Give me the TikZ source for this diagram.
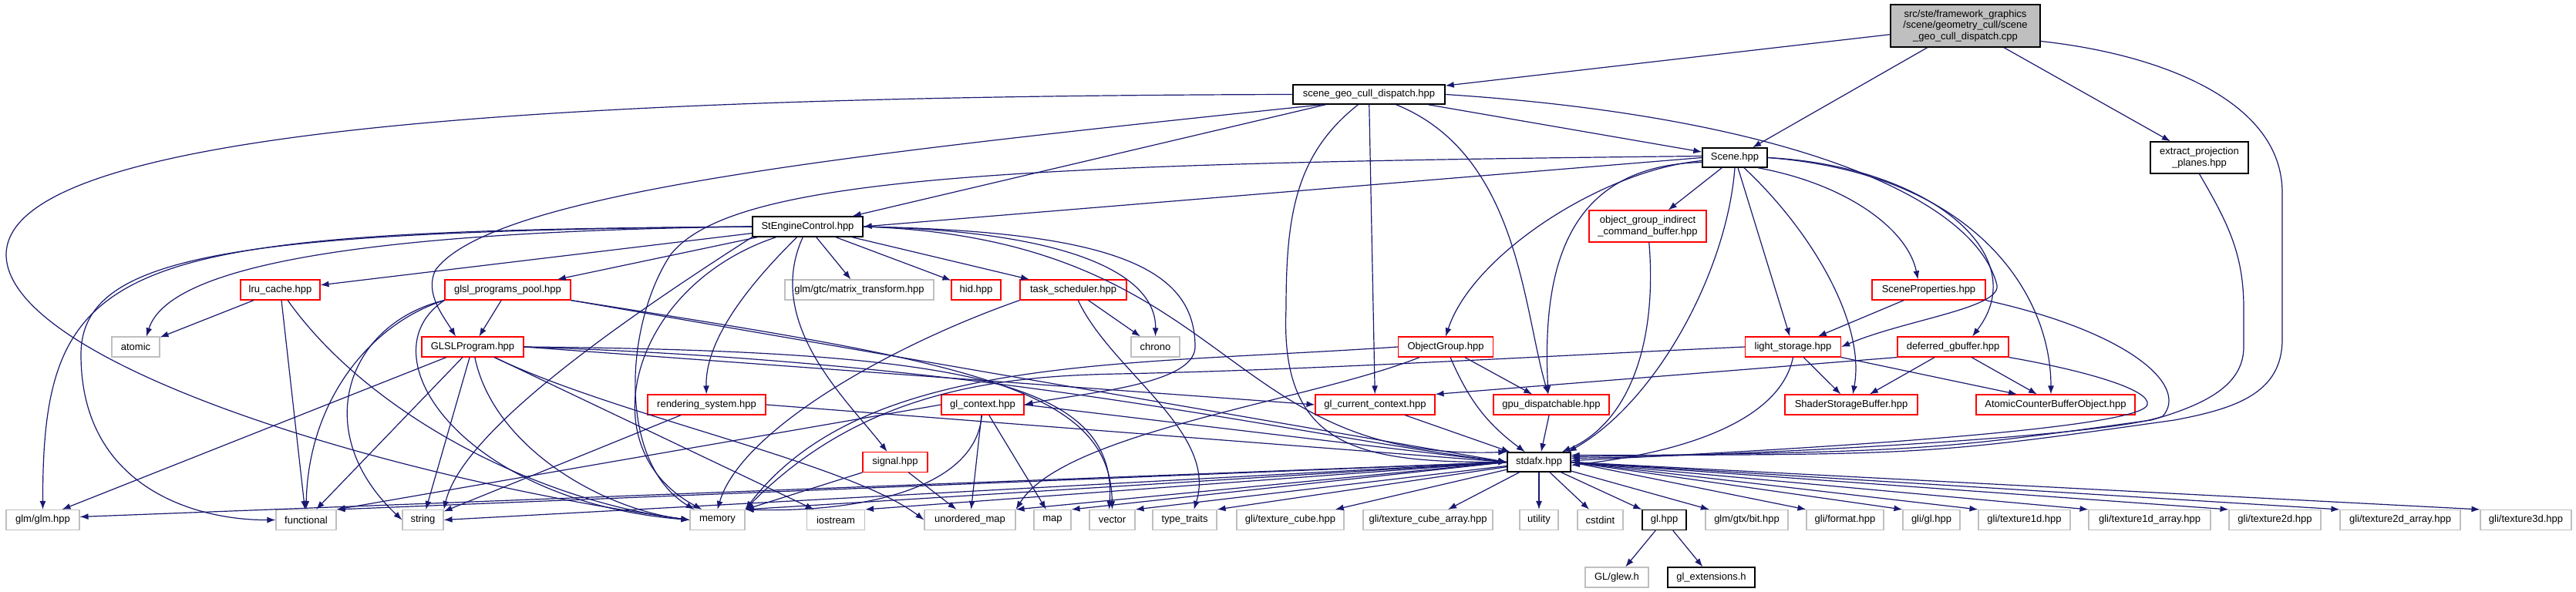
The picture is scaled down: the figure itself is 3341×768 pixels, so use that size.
\documentclass[tikz,border=0pt]{standalone}
\usepackage{fontspec}
\setmainfont{Liberation Sans}
\usetikzlibrary{arrows.meta}
\definecolor{dxblue}{HTML}{191970}
\definecolor{dxred}{HTML}{FF0000}
\definecolor{dxgray}{HTML}{BFBFBF}

\begin{document}
\begin{tikzpicture}[x=1pt,y=-1pt,
      box/.style={draw,line width=1.1pt,fill=white,inner sep=0pt,minimum height=26,align=center,font=\fontsize{13}{14.5}\selectfont},
      incbox/.style={box,draw=black,line width=1.4pt},
      redbox/.style={box,draw=dxred},
      sysbox/.style={box,draw=dxgray},
      arr/.style={-{Latex[length=11pt,width=8pt]},line width=1.2pt,draw=dxblue}]
    \fill[white] (0,0) rectangle (3341,768);
    \useasboundingbox (0,0) rectangle (3341,768);
    \node[incbox,fill=dxgray,minimum width=194,minimum height=55] (root) at (2549,33.5)
      {src/ste/framework\_graphics\\/scene/geometry\_cull/scene\\\_geo\_cull\_dispatch.cpp};
    \node[incbox,minimum width=197,minimum height=25] (sgcd) at (1775.5,122.5) {scene\_geo\_cull\_dispatch.hpp};
    \node[incbox,minimum width=84,minimum height=25] (scene) at (2250,204.5) {Scene.hpp};
    \node[incbox,minimum width=127,minimum height=41] (epp) at (2852.5,204.5) {extract\_projection\\\_planes.hpp};
    \node[redbox,minimum width=152,minimum height=41] (ogicb) at (2137,293.5) {object\_group\_indirect\\\_command\_buffer.hpp};
    \node[incbox,minimum width=143] (stengine) at (1047.5,294) {StEngineControl.hpp};
    \node[redbox,minimum width=103] (lru) at (363.5,376) {lru\_cache.hpp};
    \node[redbox,minimum width=163] (glslpool) at (658.5,376) {glsl\_programs\_pool.hpp};
    \node[sysbox,minimum width=193] (matrixtr) at (1114.5,376) {glm/gtc/matrix\_transform.hpp};
    \node[redbox,minimum width=64] (hid) at (1266,376) {hid.hpp};
    \node[redbox,minimum width=138] (tasksch) at (1392,376) {task\_scheduler.hpp};
    \node[redbox,minimum width=147] (sceneprop) at (2501.5,376) {SceneProperties.hpp};
    \node[sysbox,minimum width=62] (atomic) at (176,450) {atomic};
    \node[redbox,minimum width=132] (glslprog) at (613,450) {GLSLProgram.hpp};
    \node[sysbox,minimum width=63] (chrono) at (1498.5,450) {chrono};
    \node[redbox,minimum width=123] (objgroup) at (1875,450) {ObjectGroup.hpp};
    \node[redbox,minimum width=124] (lightst) at (2325.5,450) {light\_storage.hpp};
    \node[redbox,minimum width=144] (dgbuf) at (2533,450) {deferred\_gbuffer.hpp};
    \node[redbox,minimum width=153] (rendsys) at (916.5,525) {rendering\_system.hpp};
    \node[redbox,minimum width=107] (glctx) at (1274.5,525) {gl\_context.hpp};
    \node[redbox,minimum width=155] (glcurctx) at (1783.5,525) {gl\_current\_context.hpp};
    \node[redbox,minimum width=150] (gpudisp) at (2012,525) {gpu\_dispatchable.hpp};
    \node[redbox,minimum width=172] (ssbo) at (2401,525) {ShaderStorageBuffer.hpp};
    \node[redbox,minimum width=206] (acbo) at (2666,525) {AtomicCounterBufferObject.hpp};
    \node[redbox,minimum width=84] (signal) at (1161,599.5) {signal.hpp};
    \node[incbox,minimum width=82,minimum height=25] (stdafx) at (1996,599.5) {stdafx.hpp};
    \node[sysbox,minimum width=95] (glmglm) at (55.5,674.5) {glm/glm.hpp};
    \node[sysbox,minimum width=78] (functional) at (397,674.5) {functional};
    \node[sysbox,minimum width=53] (string) at (548.5,674.5) {string};
    \node[sysbox,minimum width=71] (memory) at (930.5,674.5) {memory};
    \node[sysbox,minimum width=75] (iostream) at (1084,674.5) {iostream};
    \node[sysbox,minimum width=118] (unordmap) at (1258,674.5) {unordered\_map};
    \node[sysbox,minimum width=48] (map) at (1365,674.5) {map};
    \node[sysbox,minimum width=59] (vector) at (1442.5,674.5) {vector};
    \node[sysbox,minimum width=83] (typetraits) at (1536.5,674.5) {type\_traits};
    \node[sysbox,minimum width=139] (texcube) at (1673.5,674.5) {gli/texture\_cube.hpp};
    \node[sysbox,minimum width=168] (texcubearr) at (1852,674.5) {gli/texture\_cube\_array.hpp};
    \node[sysbox,minimum width=50] (utility) at (1996,674.5) {utility};
    \node[sysbox,minimum width=59] (cstdint) at (2075.5,674.5) {cstdint};
    \node[incbox,minimum width=57] (glhpp) at (2158.5,674.5) {gl.hpp};
    \node[sysbox,minimum width=107] (gtxbit) at (2265.5,674.5) {glm/gtx/bit.hpp};
    \node[sysbox,minimum width=100] (format) at (2393,674.5) {gli/format.hpp};
    \node[sysbox,minimum width=74] (gligl) at (2505,674.5) {gli/gl.hpp};
    \node[sysbox,minimum width=119] (tex1d) at (2625.5,674.5) {gli/texture1d.hpp};
    \node[sysbox,minimum width=158] (tex1darr) at (2788,674.5) {gli/texture1d\_array.hpp};
    \node[sysbox,minimum width=119] (tex2d) at (2950.5,674.5) {gli/texture2d.hpp};
    \node[sysbox,minimum width=156] (tex2darr) at (3113,674.5) {gli/texture2d\_array.hpp};
    \node[sysbox,minimum width=118] (tex3d) at (3276,674.5) {gli/texture3d.hpp};
    \node[sysbox,minimum width=82] (glew) at (2097,749) {GL/glew.h};
    \node[incbox,minimum width=113] (glext) at (2219.5,749) {gl\_extensions.h};
    \draw[arr] (root) -- (sgcd);
    \draw[arr] (root) -- (scene);
    \draw[arr] (root) -- (epp);
    \draw[arr] ([yshift=-20]root.east) .. controls (2800,70) and (2960,130) .. (2960,250) -- (2960,440)
      .. controls (2960,510) and (2900,530) .. (2820,545) .. controls (2500,590) .. ([yshift=9]stdafx.east);
    \draw[arr] (epp.south) .. controls (2890,290) and (2910,330) .. (2910,400) -- (2910,450)
      .. controls (2910,500) and (2860,525) .. (2790,545) .. controls (2500,585) .. ([yshift=7]stdafx.east);
    \draw[arr] (sgcd.west) .. controls (600,125) and (10,180) .. (8,330)
      .. controls (8,470) and (500,620) .. (memory.west);
    \draw[arr] ([xshift=-60]sgcd.south) .. controls (1100,200) and (640,250) .. (565,350)
      .. controls (550,380) and (575,410) .. ([xshift=-22]glslprog.north);
    \draw[arr] (sgcd) -- (stengine);
    \draw[arr] ([xshift=-14]sgcd.south) .. controls (1680,200) and (1668,280) .. (1668,400)
      .. controls (1660,580) and (1760,600) .. (stdafx.west);
    \draw[arr] (sgcd) -- (glcurctx);
    \draw[arr] ([xshift=35]sgcd.south) .. controls (1970,200) and (1975,400) .. ([xshift=-4]gpudisp.north);
    \draw[arr] (sgcd) -- (scene);
    \draw[arr] (sgcd.east) .. controls (2300,150) and (2560,250) .. (2590,370)
      .. controls (2595,400) and (2470,415) .. (lightst.east);
    \draw[arr] (scene.west) -- (stengine.east);
    \draw[arr] ([yshift=2]scene.west) .. controls (1300,212) and (950,230) .. (870,330)
      .. controls (810,420) and (800,600) .. ([xshift=-30]memory.north);
    \draw[arr] ([yshift=-4]scene.west) .. controls (2080,220) and (1910,330) .. (objgroup.north);
    \draw[arr] ([yshift=-6]scene.west) .. controls (2030,215) and (2000,350) .. ([xshift=-4]gpudisp.north);
    \draw[arr] (scene) -- (ogicb);
    \draw[arr] (scene.south) .. controls (2240,350) and (2150,520) .. ([xshift=-4]stdafx.north east);
    \draw[arr] (scene) -- (lightst);
    \draw[arr] ([xshift=12]scene.south) .. controls (2350,300) and (2420,420) .. ([xshift=2]ssbo.north);
    \draw[arr] ([xshift=30]scene.south) .. controls (2400,240) and (2475,300) .. ([xshift=-14]sceneprop.north);
    \draw[arr] (scene.east) .. controls (2500,215) and (2640,330) .. ([xshift=25]dgbuf.north);
    \draw[arr] (scene.east) .. controls (2560,225) and (2660,380) .. ([xshift=-6]acbo.north);
    \draw[arr] (stengine.west) .. controls (150,300) and (55,330) .. (glmglm.north);
    \draw[arr] (stengine.west) .. controls (300,300) and (105,330) .. (105,460)
      .. controls (105,630) and (250,675) .. (functional.west);
    \draw[arr] (stengine.west) .. controls (500,300) and (220,340) .. ([xshift=14]atomic.north);
    \draw[arr] (stengine) -- (lru);
    \draw[arr] (stengine) -- (glslpool);
    \draw[arr] (stengine) .. controls (820,370) and (760,580) .. ([xshift=-20]memory.north);
    \draw[arr] (stengine.south west) .. controls (800,420) and (600,560) .. (string.north east);
    \draw[arr] (stengine) .. controls (940,400) and (915,460) .. (rendsys);
    \draw[arr] (stengine) .. controls (990,420) and (1100,520) .. (signal);
    \draw[arr] (stengine) -- (matrixtr);
    \draw[arr] (stengine) -- (hid);
    \draw[arr] (stengine) -- (tasksch);
    \draw[arr] (stengine.east) .. controls (1400,300) and (1500,360) .. (chrono.north);
    \draw[arr] (stengine.east) .. controls (1450,300) and (1550,350) .. (1550,450)
      .. controls (1550,500) and (1400,510) .. (glctx.east);
    \draw[arr] (stengine.east) .. controls (1600,310) and (1580,600) .. (stdafx.north west);
    \draw[arr] (lru) -- (atomic);
    \draw[arr] (lru) -- (functional);
    \draw[arr] (lru) .. controls (480,540) and (700,650) .. (memory.west);
    \draw[arr] (glslpool) -- (glslprog);
    \draw[arr] (glslpool.south west) .. controls (480,420) and (400,520) .. (functional.north);
    \draw[arr] (glslpool.south west) .. controls (450,420) and (400,560) .. (string.west);
    \draw[arr] (glslpool.south west) .. controls (470,460) and (600,650) .. (memory.west);
    \draw[arr] (glslpool.south east) .. controls (1250,470) and (1440,500) .. (vector.north);
    \draw[arr] (glslpool.south east) -- (stdafx.west);
    \draw[arr] (glslprog) -- ([xshift=25]glmglm.north);
    \draw[arr] (glslprog) -- (functional);
    \draw[arr] (glslprog) -- (string);
    \draw[arr] (glslprog) .. controls (640,580) and (780,660) .. (memory.west);
    \draw[arr] (glslprog) -- (iostream);
    \draw[arr] (glslprog) .. controls (800,540) and (1100,600) .. (unordmap.west);
    \draw[arr] (glslprog.east) -- (glcurctx.west);
    \draw[arr] (glslprog.east) .. controls (1300,470) and (1650,560) .. (stdafx.west);
    \draw[arr] (glslprog.east) .. controls (1250,455) and (1450,495) .. ([xshift=-4]vector.north);
    \draw[arr] (tasksch) -- (chrono);
    \draw[arr] (tasksch) .. controls (1440,480) and (1580,560) .. ([xshift=12]typetraits.north);
    \draw[arr] (tasksch.south west) .. controls (1150,450) and (960,560) .. (memory.north);
    \draw[arr] (rendsys) -- (string);
    \draw[arr] (rendsys.east) -- (stdafx.west);
    \draw[arr] (glctx.west) -- (functional.north east);
    \draw[arr] (glctx) .. controls (1265,640) and (1100,665) .. (memory.north east);
    \draw[arr] (glctx) -- (unordmap);
    \draw[arr] (glctx) -- (map);
    \draw[arr] (glctx.east) -- (stdafx.west);
    \draw[arr] (signal) -- (memory.north east);
    \draw[arr] (signal) -- (unordmap);
    \draw[arr] (objgroup.west) .. controls (1450,475) and (1120,460) .. (memory.north east);
    \draw[arr] (objgroup) .. controls (1700,520) and (1380,560) .. (unordmap.north east);
    \draw[arr] (objgroup) -- (gpudisp);
    \draw[arr] (objgroup) to[bend right=15] (stdafx);
    \draw[arr] (lightst.west) .. controls (2000,462) and (1700,480) .. (1450,485)
      .. controls (1300,488) and (1120,505) .. (memory.north east);
    \draw[arr] (lightst) -- (ssbo);
    \draw[arr] (lightst.south east) -- ([xshift=-50]acbo.north);
    \draw[arr] (lightst.south) .. controls (2310,540) and (2200,585) .. ([yshift=-4]stdafx.east);
    \draw[arr] (sceneprop) -- (lightst);
    \draw[arr] (sceneprop.south east) .. controls (2760,430) and (2840,500) .. (2805,540)
      .. controls (2740,565) and (2300,590) .. ([yshift=5]stdafx.east);
    \draw[arr] (dgbuf.south west) -- (glcurctx.north east);
    \draw[arr] (dgbuf) -- (ssbo);
    \draw[arr] (dgbuf) -- (acbo);
    \draw[arr] (dgbuf.south east) .. controls (2700,480) and (2790,505) .. (2785,525)
      .. controls (2780,545) and (2600,570) .. ([yshift=2]stdafx.east);
    \draw[arr] (ogicb) .. controls (2150,450) and (2110,550) .. ([xshift=-12]stdafx.north east);
    \draw[arr] (gpudisp) -- (stdafx);
    \draw[arr] (glcurctx) -- (stdafx);
    \draw[arr] (stdafx.west) -- ([yshift=4]glmglm.east);
    \draw[arr] (stdafx.west) -- (functional.north east);
    \draw[arr] (stdafx.west) -- (string.east);
    \draw[arr] (stdafx.west) -- (memory.north east);
    \draw[arr] (stdafx.west) -- (iostream.north east);
    \draw[arr] (stdafx.west) -- (unordmap.north east);
    \draw[arr] (stdafx.west) -- (map.north east);
    \draw[arr] (stdafx) -- (vector.north east);
    \draw[arr] (stdafx) -- (typetraits.north east);
    \draw[arr] (stdafx) -- (texcube);
    \draw[arr] (stdafx) -- (texcubearr);
    \draw[arr] (stdafx) -- (utility);
    \draw[arr] (stdafx) -- (cstdint);
    \draw[arr] (stdafx) -- (glhpp);
    \draw[arr] (stdafx) -- (gtxbit);
    \draw[arr] (stdafx.east) -- (format.north west);
    \draw[arr] (stdafx.east) -- (gligl.north west);
    \draw[arr] (stdafx.east) -- (tex1d.north west);
    \draw[arr] (stdafx.east) -- (tex1darr.north west);
    \draw[arr] (stdafx.east) -- (tex2d.north west);
    \draw[arr] (stdafx.east) -- (tex2darr.north west);
    \draw[arr] (stdafx.east) -- (tex3d.north west);
    \draw[arr] (glhpp) -- (glew);
    \draw[arr] (glhpp) -- (glext);
  \end{tikzpicture}
\end{document}
